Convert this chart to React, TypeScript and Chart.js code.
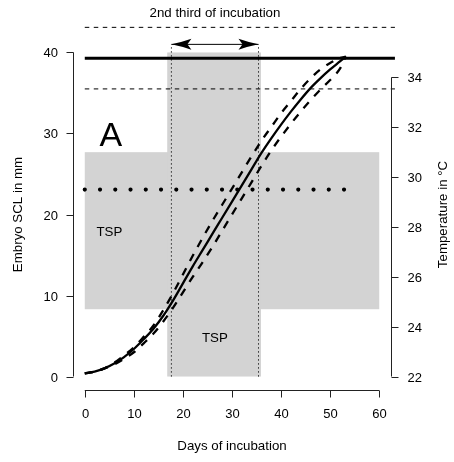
import React, { useEffect, useRef } from "react";
import { Chart, registerables } from "chart.js";

Chart.register(...registerables);

// ---------- data ----------
const days = [0, 2, 4, 6, 8, 10, 12, 14, 16, 18, 20, 22, 24, 26, 28, 30, 32, 34, 36, 38, 40, 42, 44, 46, 48, 50, 52, 53.2];
const sclMean = [0.4, 0.6, 1.0, 1.6, 2.4, 3.4, 4.6, 5.9, 7.5, 9.4, 11.5, 13.6, 15.6, 17.6, 19.6, 21.6, 23.6, 25.6, 27.6, 29.4, 31.1, 32.7, 34.2, 35.6, 36.8, 37.9, 38.9, 39.5];
const sclUpper = [0.4, 0.6, 1.0, 1.7, 2.6, 3.6, 4.9, 6.3, 8.2, 10.3, 12.6, 14.9, 17.1, 19.2, 21.2, 23.2, 25.2, 27.2, 29.1, 30.8, 32.5, 34.0, 35.5, 36.8, 37.9, 38.7, 39.3, 39.5];
const sclLower = [0.4, 0.6, 1.0, 1.5, 2.2, 3.0, 4.1, 5.3, 6.8, 8.5, 10.4, 12.3, 14.1, 16.0, 18.0, 20.0, 22.0, 24.0, 26.0, 27.9, 29.6, 31.2, 32.7, 34.1, 35.4, 36.6, 38.0, 39.5];

// hatchling SCL reference lines (mm): upper, mean, lower
const hatchlingSCL = [43.1, 39.3, 35.5];
const hatchlingSpanDays = [0, 63.2];

// pivotal temperature (°C) line
const pivotalTemp = 29.5;
const pivotalSpanDays = [0, 53.2];

// TSP shaded regions
const tspTempRange = [24.7, 31.0];
const tspTempDays = [0, 60];
const tspWindowDays = [16.8, 35.9];
const tspWindowSCL = [0, 40];

// second third of incubation
const secondThirdDays = [17.65, 35.4];
const secondThirdTopSCL = 41.0;

// ticks
const xTicks = [0, 10, 20, 30, 40, 50, 60];
const yTicks = [0, 10, 20, 30, 40];
const tempTicks = [22, 24, 26, 28, 30, 32, 34];

// labels
const xTitle = "Days of incubation";
const yTitle = "Embryo SCL in mm";
const y1Title = "Temperature in °C";
const topTitle = "2nd third of incubation";
const panelLabel = "A";
const panelLabelPos = [5.3, 30];
const tspLabels = [
  { text: "TSP", day: 5, scl: 17.9 },
  { text: "TSP", day: 26.5, scl: 4.9 },
];

const FONT = '"Liberation Sans", Arial, Helvetica, sans-serif';

const rPlot = {
  id: "rPlot",
  beforeDatasetsDraw(chart: any) {
    const { ctx, scales } = chart;
    const x = scales.x, y = scales.y, y1 = scales.y1;
    ctx.save();
    ctx.fillStyle = "#d3d3d3";
    const ax0 = x.getPixelForValue(tspTempDays[0]);
    const ax1 = x.getPixelForValue(tspTempDays[1]);
    const ay0 = y1.getPixelForValue(tspTempRange[1]);
    const ay1 = y1.getPixelForValue(tspTempRange[0]);
    ctx.fillRect(ax0, ay0, ax1 - ax0, ay1 - ay0);
    const bx0 = x.getPixelForValue(tspWindowDays[0]);
    const bx1 = x.getPixelForValue(tspWindowDays[1]);
    const by0 = y.getPixelForValue(tspWindowSCL[1]);
    const by1 = y.getPixelForValue(tspWindowSCL[0]);
    ctx.fillRect(bx0, by0, bx1 - bx0, by1 - by0);
    ctx.restore();
  },
  afterDatasetsDraw(chart: any) {
    const { ctx, scales, chartArea } = chart;
    const x = scales.x, y = scales.y, y1 = scales.y1;
    ctx.save();
    ctx.strokeStyle = "#000";
    ctx.fillStyle = "#000";
    ctx.lineWidth = 1;

    // arrow for 2nd third
    const ayp = y.getPixelForValue(secondThirdTopSCL);
    const axl = x.getPixelForValue(secondThirdDays[0]);
    const axr = x.getPixelForValue(secondThirdDays[1]);
    ctx.beginPath();
    ctx.moveTo(axl, ayp);
    ctx.lineTo(axr, ayp);
    ctx.stroke();
    const head = (tx: number, dir: number) => {
      ctx.beginPath();
      ctx.moveTo(tx, ayp);
      ctx.quadraticCurveTo(tx + dir * 10, ayp - 2, tx + dir * 20, ayp - 5.5);
      ctx.lineTo(tx + dir * 16, ayp);
      ctx.lineTo(tx + dir * 20, ayp + 5.5);
      ctx.quadraticCurveTo(tx + dir * 10, ayp + 2, tx, ayp);
      ctx.closePath();
      ctx.fill();
    };
    head(axl, 1);
    head(axr, -1);

    // axes
    ctx.strokeStyle = "#222";
    ctx.fillStyle = "#000";
    ctx.font = `13px ${FONT}`;
    const tl = 7;
    // left
    const lx = Math.round(chartArea.left) + 0.5;
    ctx.beginPath();
    ctx.moveTo(lx, y.getPixelForValue(yTicks[0]));
    ctx.lineTo(lx, y.getPixelForValue(yTicks[yTicks.length - 1]));
    ctx.stroke();
    ctx.textAlign = "right";
    ctx.textBaseline = "middle";
    yTicks.forEach((t) => {
      const py = Math.round(y.getPixelForValue(t)) + 0.5;
      ctx.beginPath();
      ctx.moveTo(lx - tl, py);
      ctx.lineTo(lx, py);
      ctx.stroke();
      ctx.fillText(String(t), lx - 15.5, py + 0.5);
    });
    // right
    const rx = Math.round(chartArea.right) + 0.5;
    ctx.beginPath();
    ctx.moveTo(rx, y1.getPixelForValue(tempTicks[0]));
    ctx.lineTo(rx, y1.getPixelForValue(tempTicks[tempTicks.length - 1]));
    ctx.stroke();
    ctx.textAlign = "left";
    tempTicks.forEach((t) => {
      const py = Math.round(y1.getPixelForValue(t)) + 0.5;
      ctx.beginPath();
      ctx.moveTo(rx, py);
      ctx.lineTo(rx + tl, py);
      ctx.stroke();
      ctx.fillText(String(t), rx + 16, py + 0.5);
    });
    // bottom
    const by = Math.round(chartArea.bottom) + 0.5;
    ctx.beginPath();
    ctx.moveTo(x.getPixelForValue(xTicks[0]), by);
    ctx.lineTo(x.getPixelForValue(xTicks[xTicks.length - 1]), by);
    ctx.stroke();
    ctx.textAlign = "center";
    xTicks.forEach((t) => {
      const px = Math.round(x.getPixelForValue(t)) + 0.5;
      ctx.beginPath();
      ctx.moveTo(px, by);
      ctx.lineTo(px, by + tl);
      ctx.stroke();
      ctx.fillText(String(t), px, by + 24);
    });

    // titles
    ctx.font = `13.3px ${FONT}`;
    const midY = (chartArea.top + chartArea.bottom) / 2;
    const midX = (chartArea.left + chartArea.right) / 2;
    ctx.textAlign = "center";
    ctx.textBaseline = "middle";
    ctx.fillText(xTitle, midX, chartArea.bottom + 57);
    ctx.fillText(topTitle, (axl + axr) / 2, 13);
    ctx.save();
    ctx.translate(18, midY);
    ctx.rotate(-Math.PI / 2);
    ctx.fillText(yTitle, 0, 0);
    ctx.restore();
    ctx.save();
    ctx.translate(chartArea.right + 52.5, midY);
    ctx.rotate(-Math.PI / 2);
    ctx.fillText(y1Title, 0, 0);
    ctx.restore();

    // TSP labels
    ctx.textBaseline = "alphabetic";
    tspLabels.forEach((l) => {
      const px = x.getPixelForValue(l.day);
      const py = y.getPixelForValue(l.scl);
      ctx.fillText(l.text, px, py + 0.716 * 13.3 / 2);
    });

    // panel label
    ctx.font = `34px ${FONT}`;
    ctx.fillText(panelLabel, x.getPixelForValue(panelLabelPos[0]), y.getPixelForValue(panelLabelPos[1]) + 0.716 * 34 / 2);

    ctx.restore();
  },
};

const pts = (xs: number[], ys: number[]) => xs.map((d, i) => ({ x: d, y: ys[i] }));

export default function App() {
  const ref = useRef<HTMLCanvasElement | null>(null);
  useEffect(() => {
    if (!ref.current) return;
    const lineBase = { pointRadius: 0, fill: false, borderColor: "#000", clip: false as any, tension: 0 };
    const chart = new Chart(ref.current, {
      type: "line",
      data: {
        datasets: [
          { ...lineBase, data: pts(days, sclMean), borderWidth: 2.3, cubicInterpolationMode: "monotone", yAxisID: "y" },
          { ...lineBase, data: pts(days, sclUpper), borderWidth: 2.3, borderDash: [8, 8], cubicInterpolationMode: "monotone", yAxisID: "y" },
          { ...lineBase, data: pts(days, sclLower), borderWidth: 2.3, borderDash: [8, 8], cubicInterpolationMode: "monotone", yAxisID: "y" },
          { ...lineBase, data: hatchlingSpanDays.map((d) => ({ x: d, y: hatchlingSCL[0] })), borderWidth: 1, borderDash: [4.5, 4.5], yAxisID: "y" },
          { ...lineBase, data: hatchlingSpanDays.map((d) => ({ x: d, y: hatchlingSCL[1] })), borderWidth: 3, yAxisID: "y" },
          { ...lineBase, data: hatchlingSpanDays.map((d) => ({ x: d, y: hatchlingSCL[2] })), borderWidth: 1, borderDash: [4.5, 4.5], yAxisID: "y" },
          { ...lineBase, data: pivotalSpanDays.map((d) => ({ x: d, y: pivotalTemp })), borderWidth: 4.2, borderDash: [0, 15.25], borderCapStyle: "round", yAxisID: "y1" },
          { ...lineBase, data: [{ x: secondThirdDays[0], y: 0 }, { x: secondThirdDays[0], y: secondThirdTopSCL }], borderWidth: 1, borderDash: [1.2, 2.8], yAxisID: "y" },
          { ...lineBase, data: [{ x: secondThirdDays[1], y: 0 }, { x: secondThirdDays[1], y: secondThirdTopSCL }], borderWidth: 1, borderDash: [1.2, 2.8], yAxisID: "y" },
        ] as any,
      },
      options: {
        animation: false,
        responsive: false,
        maintainAspectRatio: false,
        parsing: false as any,
        normalized: true,
        layout: { padding: { left: 73, right: 63, top: 39.5, bottom: 72.5 } },
        plugins: { legend: { display: false }, tooltip: { enabled: false } },
        events: [],
        scales: {
          x: { type: "linear", min: -2.4, max: 62.4, display: false },
          y: { type: "linear", min: -1.6, max: 41.6, display: false },
          y1: { type: "linear", min: 21.48, max: 35.52, display: false },
        },
      },
      plugins: [rPlot],
    });
    return () => chart.destroy();
  }, []);
  return (
    <div style={{ position: "absolute", left: 0, top: 0, width: 454, height: 462, background: "#fff" }}>
      <canvas ref={ref} width={454} height={462} style={{ width: 454, height: 462, display: "block" }} />
    </div>
  );
}
